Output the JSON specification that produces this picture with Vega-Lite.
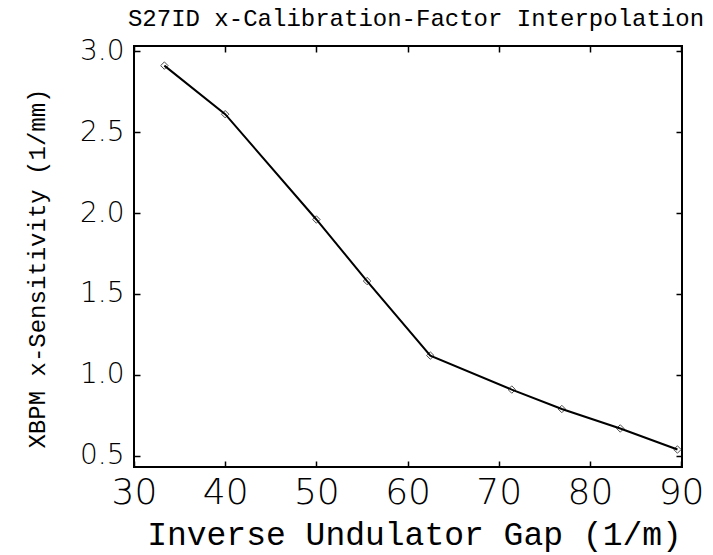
{
  "$schema": "https://vega.github.io/schema/vega-lite/v6.json",
  "width": 548,
  "height": 421,
  "autosize": {"type": "none"},
  "padding": {"left": 134, "top": 46, "right": 31, "bottom": 88},
  "background": "white",
  "config": {
    "view": {"stroke": "black", "strokeWidth": 2},
    "axis": {"grid": false, "domain": false, "tickColor": "black", "tickWidth": 1.5, "labelColor": "black", "titleColor": "black", "labelFont": "DejaVu Sans", "titleFont": "Liberation Mono", "labelFontWeight": 200, "titleFontWeight": "normal"}
  },
  "title": {"text": "S27ID x-Calibration-Factor Interpolation", "font": "Liberation Mono", "fontSize": 24, "fontWeight": "normal", "color": "black", "anchor": "middle", "offset": 6, "dx": 8},
  "data": {
    "values": [
      {"inv_gap": 33.33, "sens": 2.91},
      {"inv_gap": 40.0, "sens": 2.61},
      {"inv_gap": 50.0, "sens": 1.96},
      {"inv_gap": 55.56, "sens": 1.58},
      {"inv_gap": 62.5, "sens": 1.12},
      {"inv_gap": 71.43, "sens": 0.91},
      {"inv_gap": 76.92, "sens": 0.79},
      {"inv_gap": 83.33, "sens": 0.67},
      {"inv_gap": 89.6, "sens": 0.54}
    ]
  },
  "layer": [
    {
      "mark": {"type": "line", "color": "black", "strokeWidth": 2},
      "encoding": {
        "x": {"field": "inv_gap", "type": "quantitative", "scale": {"domain": [30, 90.1], "nice": false, "zero": false},
          "axis": {"orient": "bottom", "values": [30, 40, 50, 60, 70, 80, 90], "tickSize": -6, "labelFontSize": 36, "labelPadding": 14, "labelFlush": false, "title": "Inverse Undulator Gap (1/m)", "titleFontSize": 33, "titleX": 280, "titleY": 67, "titleBaseline": "middle", "titleAlign": "center"}},
        "y": {"field": "sens", "type": "quantitative", "scale": {"domain": [0.432, 3.031], "nice": false, "zero": false},
          "axis": {"orient": "left", "values": [0.5, 1.0, 1.5, 2.0, 2.5, 3.0], "format": ".1f", "tickSize": -6, "labelFontSize": 28, "labelPadding": 16, "labelFlush": false, "title": "XBPM x-Sensitivity (1/mm)", "titleFontSize": 24, "titleX": -97, "titleY": 222, "titleAngle": -90, "titleBaseline": "middle", "titleAlign": "center"}}
      }
    },
    {
      "mark": {"type": "point", "shape": "diamond", "filled": false, "color": "black", "size": 55, "strokeWidth": 1},
      "encoding": {
        "x": {"field": "inv_gap", "type": "quantitative", "scale": {"domain": [30, 90.1], "nice": false, "zero": false},
          "axis": {"orient": "top", "values": [30, 40, 50, 60, 70, 80, 90], "tickSize": -6, "labels": false, "title": null}},
        "y": {"field": "sens", "type": "quantitative", "scale": {"domain": [0.432, 3.031], "nice": false, "zero": false},
          "axis": {"orient": "right", "values": [0.5, 1.0, 1.5, 2.0, 2.5, 3.0], "tickSize": -6, "labels": false, "title": null}}
      }
    }
  ],
  "resolve": {"axis": {"x": "independent", "y": "independent"}}
}
